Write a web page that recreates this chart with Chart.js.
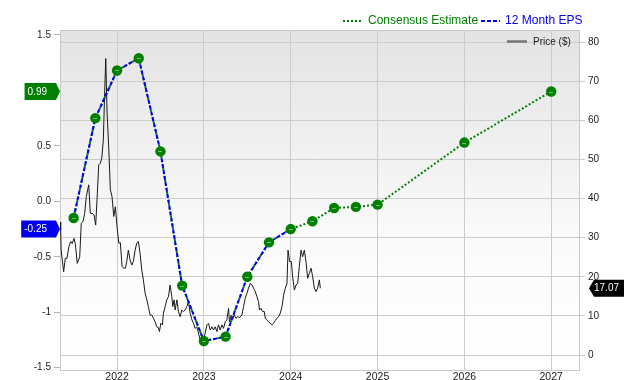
<!DOCTYPE html>
<html>
<head>
<meta charset="utf-8">
<script src="https://cdn.jsdelivr.net/npm/chart.js@4.4.0/dist/chart.umd.min.js"></script>
<style>
  html, body { margin: 0; padding: 0; background: #ffffff; }
  #wrap { width: 640px; height: 380px; }
</style>
</head>
<body>
<div id="wrap"><canvas id="epsChart" width="640" height="380"></canvas></div>
<script>
// quarterly EPS points (decimal years)
const epsDates = [2021.5, 2021.75, 2022.0, 2022.25, 2022.5, 2022.75, 2023.0, 2023.25, 2023.5, 2023.75, 2024.0];
const epsValues = [-0.15, 0.75, 1.18, 1.29, 0.45, -0.76, -1.26, -1.22, -0.68, -0.37, -0.25];

// consensus line starts with the reported history and runs on to 2027
const estimateDates = [2024.25, 2024.5, 2024.75, 2025.0, 2026.0, 2027.0];
const estimateValues = [-0.18, -0.06, -0.05, -0.03, 0.53, 0.99];

// share price, roughly weekly
const priceDates = [
  2021.343, 2021.351, 2021.356, 2021.385, 2021.404, 2021.423, 2021.446, 2021.466, 2021.484, 2021.504,
  2021.519, 2021.542, 2021.570, 2021.588, 2021.608, 2021.627, 2021.646, 2021.674, 2021.692, 2021.715,
  2021.735, 2021.754, 2021.773, 2021.789, 2021.807, 2021.824, 2021.842, 2021.858, 2021.870, 2021.885,
  2021.904, 2021.923, 2021.942, 2021.962, 2021.980, 2022.000, 2022.020, 2022.038, 2022.058, 2022.077,
  2022.096, 2022.112, 2022.130, 2022.150, 2022.170, 2022.188, 2022.208, 2022.227, 2022.246, 2022.265,
  2022.285, 2022.303, 2022.323, 2022.343, 2022.361, 2022.381, 2022.400, 2022.419, 2022.438, 2022.458,
  2022.476, 2022.488, 2022.504, 2022.522, 2022.534, 2022.554, 2022.573, 2022.592, 2022.611, 2022.631,
  2022.642, 2022.657, 2022.669, 2022.689, 2022.707, 2022.727, 2022.746, 2022.765, 2022.784, 2022.804,
  2022.822, 2022.842, 2022.862, 2022.880, 2022.900, 2022.919, 2022.938, 2022.957, 2022.977, 2022.995,
  2023.015, 2023.035, 2023.053, 2023.073, 2023.092, 2023.111, 2023.130, 2023.150, 2023.168, 2023.188,
  2023.208, 2023.226, 2023.246, 2023.265, 2023.284, 2023.295, 2023.315, 2023.330, 2023.349, 2023.369,
  2023.388, 2023.411, 2023.438, 2023.457, 2023.476, 2023.496, 2023.514, 2023.534, 2023.554, 2023.572,
  2023.592, 2023.611, 2023.630, 2023.641, 2023.657, 2023.676, 2023.696, 2023.707, 2023.727, 2023.745,
  2023.765, 2023.784, 2023.803, 2023.822, 2023.842, 2023.860, 2023.880, 2023.900, 2023.918, 2023.938,
  2023.957, 2023.969, 2023.987, 2024.007, 2024.022, 2024.042, 2024.061, 2024.080, 2024.099, 2024.119,
  2024.137, 2024.157, 2024.176, 2024.195, 2024.215, 2024.234, 2024.253, 2024.272, 2024.292, 2024.310,
  2024.330, 2024.341
];
const priceValues = [
  34.0, 32.0, 26.8, 21.3, 24.7, 24.7, 27.7, 29.0, 28.5, 29.8,
  28.5, 23.4, 25.1, 33.7, 34.1, 36.2, 40.5, 43.5, 36.2, 36.2,
  35.8, 33.2, 41.3, 48.6, 49.0, 50.3, 55.0, 67.7, 75.8, 61.8,
  53.2, 42.2, 40.5, 35.4, 37.9, 32.8, 28.6, 28.7, 22.6, 22.2,
  22.2, 23.9, 26.8, 24.3, 23.0, 23.9, 26.8, 28.6, 29.0, 26.0,
  21.7, 19.2, 15.8, 14.1, 12.4, 10.2, 10.2, 9.4, 8.5, 7.2,
  7.0, 6.0, 8.1, 7.7, 10.7, 12.4, 14.1, 14.9, 17.9, 14.9,
  12.4, 14.1, 11.5, 14.1, 11.1, 9.8, 11.5, 11.1, 11.5, 12.4,
  13.6, 10.7, 9.0, 8.1, 6.8, 7.2, 5.6, 3.8, 3.0, 3.8,
  5.6, 7.7, 8.1, 6.4, 7.2, 6.4, 7.2, 6.0, 7.7, 6.4,
  7.7, 6.8, 8.5, 9.0, 11.9, 8.5, 10.2, 9.4, 10.2, 9.4,
  9.8, 9.6, 10.2, 12.4, 14.5, 15.8, 17.1, 18.3, 17.9, 17.1,
  16.2, 14.9, 13.6, 11.5, 11.9, 11.1, 11.1, 9.4, 9.0, 8.5,
  8.1, 7.7, 8.1, 8.8, 9.4, 9.8, 10.7, 12.4, 15.3, 17.1,
  18.3, 26.8, 23.9, 23.9, 20.0, 16.6, 17.9, 18.3, 22.6, 26.8,
  25.1, 26.8, 23.9, 19.6, 20.9, 22.2, 20.0, 17.1, 16.2, 17.1,
  19.2, 17.07
];

const yearTicks = [2022, 2023, 2024, 2025, 2026, 2027];
const epsTickValues = [-1.5, -1, -0.5, 0, 0.5, 1, 1.5];
const epsTickLabels = ['-1.5', '-1', '-0.5', '0.0', '0.5', '1.0', '1.5'];
const priceTickValues = [0, 10, 20, 30, 40, 50, 60, 70, 80];

const GREEN = '#008000';
const BLUE = '#0000ee';
const FONT = '"Liberation Sans", Arial, sans-serif';

const toPoints = (xs, ys) => xs.map((x, i) => ({ x: x, y: ys[i] }));
const consensusPoints = toPoints(epsDates.concat(estimateDates), epsValues.concat(estimateValues));

const plotBackground = {
    id: 'plotBackground',
    beforeDraw: (chart) => {
        const { ctx, chartArea: a } = chart;
        const g = ctx.createLinearGradient(0, a.top, 0, a.bottom);
        g.addColorStop(0, '#e3e3e3');
        g.addColorStop(0.6, '#fafafa');
        g.addColorStop(1, '#ffffff');
        ctx.save();
        ctx.fillStyle = g;
        ctx.fillRect(a.left, a.top, a.right - a.left, a.bottom - a.top);
        ctx.restore();
    },
    beforeDatasetsDraw: (chart) => {
        const { ctx, chartArea: a } = chart;
        ctx.save();
        ctx.strokeStyle = '#c8c8c8';
        ctx.lineWidth = 1;
        ctx.beginPath();
        ctx.moveTo(a.left, a.top + 0.5);
        ctx.lineTo(a.right, a.top + 0.5);
        ctx.stroke();
        ctx.restore();
    }
};

const badge = (ctx, tipX, y, text, color, pointLeft) => {
    ctx.font = '10px ' + FONT;
    const w = ctx.measureText(text).width;
    const h = 17;
    ctx.fillStyle = color;
    ctx.beginPath();
    if (pointLeft) {
        const left = tipX + 5;
        const right = left + w + 5;
        ctx.moveTo(tipX, y);
        ctx.lineTo(left, y - h / 2);
        ctx.lineTo(right, y - h / 2);
        ctx.lineTo(right, y + h / 2);
        ctx.lineTo(left, y + h / 2);
    } else {
        const right = tipX - 4;
        const left = right - w - 12;
        ctx.moveTo(tipX, y);
        ctx.lineTo(right, y - h / 2);
        ctx.lineTo(left, y - h / 2);
        ctx.lineTo(left, y + h / 2);
        ctx.lineTo(right, y + h / 2);
    }
    ctx.closePath();
    ctx.fill();
    ctx.fillStyle = '#ffffff';
    ctx.textBaseline = 'middle';
    if (pointLeft) {
        ctx.textAlign = 'left';
        ctx.fillText(text, tipX + 5, y + 0.5);
    } else {
        ctx.textAlign = 'right';
        ctx.fillText(text, tipX - 13, y + 0.5);
    }
};

const legendAndBadges = {
    id: 'legendAndBadges',
    afterDatasetsDraw: (chart) => {
        // faint white dash inside each marker
        const ctx = chart.ctx;
        const meta = chart.getDatasetMeta(0);
        ctx.save();
        ctx.fillStyle = 'rgba(255,255,255,0.45)';
        meta.data.forEach(p => ctx.fillRect(Math.round(p.x) - 2, Math.round(p.y), 4, 1));
        ctx.restore();
    },
    afterDraw: (chart) => {
        const ctx = chart.ctx;
        const a = chart.chartArea;
        ctx.save();

        // top legend
        ctx.font = '12px ' + FONT;
        ctx.textBaseline = 'middle';
        ctx.textAlign = 'left';
        let x = 343;
        const ly = 21;
        ctx.lineWidth = 2;
        ctx.setLineDash([2, 2]);
        ctx.strokeStyle = GREEN;
        ctx.beginPath(); ctx.moveTo(x, ly); ctx.lineTo(x + 19, ly); ctx.stroke();
        x += 25;
        ctx.fillStyle = GREEN;
        ctx.fillText('Consensus Estimate', x, ly);
        x += ctx.measureText('Consensus Estimate').width + 3;
        ctx.setLineDash([4, 2]);
        ctx.strokeStyle = BLUE;
        ctx.beginPath(); ctx.moveTo(x, ly); ctx.lineTo(x + 19, ly); ctx.stroke();
        x += 24;
        ctx.fillStyle = BLUE;
        ctx.fillText('12 Month EPS', x, ly);

        // price legend inside plot
        ctx.setLineDash([]);
        ctx.strokeStyle = '#777777';
        ctx.lineWidth = 2.5;
        ctx.beginPath(); ctx.moveTo(507, 41.5); ctx.lineTo(527, 41.5); ctx.stroke();
        ctx.font = '10px ' + FONT;
        ctx.fillStyle = '#222222';
        ctx.fillText('Price ($)', 533, 42);

        // value badges
        const yEps = chart.scales.yEps;
        const yPrice = chart.scales.yPrice;
        const lastEstimate = estimateValues[estimateValues.length - 1];
        const lastEps = epsValues[epsValues.length - 1];
        const lastPrice = priceValues[priceValues.length - 1];
        badge(ctx, a.left, yEps.getPixelForValue(lastEstimate), lastEstimate.toFixed(2), GREEN, false);
        badge(ctx, a.left, yEps.getPixelForValue(lastEps), lastEps.toFixed(2), BLUE, false);
        badge(ctx, 589, yPrice.getPixelForValue(lastPrice), lastPrice.toFixed(2), '#000000', true);

        ctx.restore();
    }
};

const ctx = document.getElementById('epsChart').getContext('2d');
const chart = new Chart(ctx, {
    type: 'line',
    data: {
        datasets: [{
            label: 'markers',
            data: consensusPoints,
            yAxisID: 'yEps',
            showLine: false,
            pointRadius: 5.2,
            pointBackgroundColor: GREEN,
            pointBorderColor: GREEN,
            pointBorderWidth: 0
        }, {
            label: '12 Month EPS',
            data: toPoints(epsDates, epsValues),
            yAxisID: 'yEps',
            borderColor: BLUE,
            borderWidth: 2,
            borderDash: [4, 2],
            pointRadius: 0,
            tension: 0
        }, {
            label: 'Consensus Estimate',
            data: consensusPoints,
            yAxisID: 'yEps',
            borderColor: GREEN,
            borderWidth: 2,
            borderDash: [2, 2],
            pointRadius: 0,
            tension: 0
        }, {
            label: 'Price ($)',
            data: toPoints(priceDates, priceValues),
            yAxisID: 'yPrice',
            borderColor: '#1a1a1a',
            borderWidth: 1,
            pointRadius: 0,
            tension: 0
        }]
    },
    options: {
        responsive: false,
        animation: false,
        events: [],
        layout: { padding: { top: 30, left: 0, right: 0, bottom: 0 } },
        plugins: {
            legend: { display: false },
            tooltip: { enabled: false }
        },
        scales: {
            x: {
                type: 'linear',
                position: 'bottom',
                min: 2021.343,
                max: 2027.32,
                afterBuildTicks: (scale) => { scale.ticks = yearTicks.map(v => ({ value: v })); },
                afterFit: (scale) => { scale.height = 10; },
                grid: { color: '#cccccc', drawTicks: false },
                border: { color: '#c8c8c8' },
                ticks: {
                    color: '#222222',
                    font: { family: FONT, size: 10.5 },
                    padding: 1,
                    maxRotation: 0,
                    callback: (v) => String(v)
                }
            },
            yEps: {
                type: 'linear',
                position: 'left',
                min: -1.521,
                max: 1.545,
                afterBuildTicks: (scale) => { scale.ticks = epsTickValues.map(v => ({ value: v })); },
                afterFit: (scale) => { scale.width = 60; },
                grid: { drawOnChartArea: false, drawTicks: true, tickLength: 6, color: '#b4b4b4' },
                border: { color: '#c8c8c8' },
                ticks: {
                    color: '#222222',
                    font: { family: FONT, size: 10 },
                    padding: 3,
                    callback: (v) => epsTickLabels[epsTickValues.indexOf(v)]
                }
            },
            yPrice: {
                type: 'linear',
                position: 'right',
                min: -3.83,
                max: 83.07,
                afterBuildTicks: (scale) => { scale.ticks = priceTickValues.map(v => ({ value: v })); },
                afterFit: (scale) => { scale.width = 61; },
                grid: { color: '#cccccc', drawTicks: true, tickLength: 6 },
                border: { color: '#c8c8c8' },
                ticks: {
                    color: '#222222',
                    font: { family: FONT, size: 10 },
                    padding: 3,
                    callback: (v) => String(v)
                }
            }
        }
    },
    plugins: [plotBackground, legendAndBadges]
});
</script>
</body>
</html>
